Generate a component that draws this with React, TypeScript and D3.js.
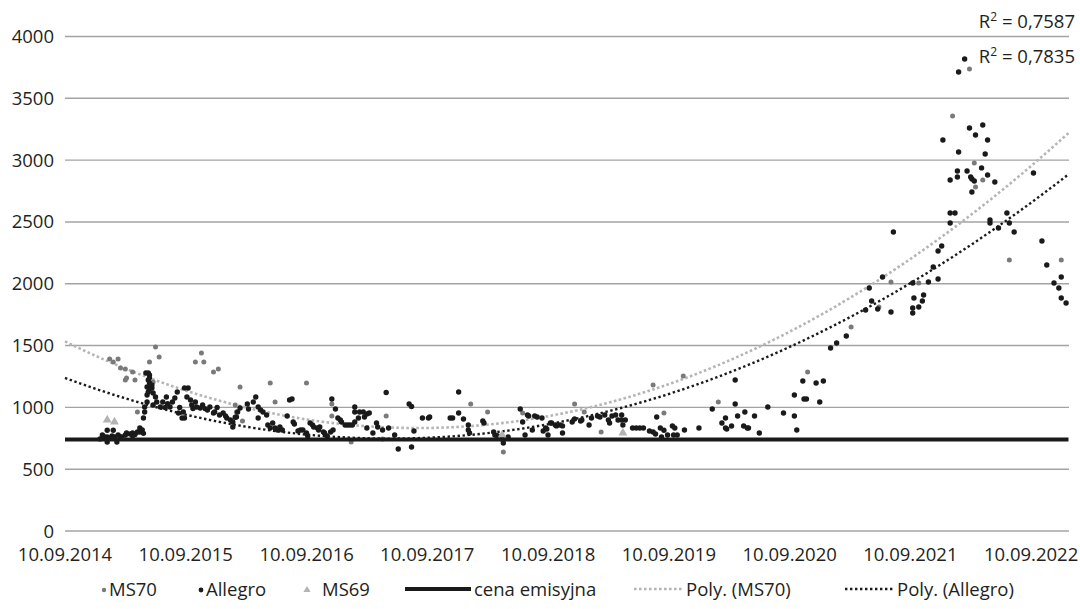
import React from "react";
import * as d3 from "d3";

// ---------- DATA (x = decimal year, y = price) ----------
const xTickLabels = ["10.09.2014","10.09.2015","10.09.2016","10.09.2017","10.09.2018","10.09.2019","10.09.2020","10.09.2021","10.09.2022"];
const yTicks = [0, 500, 1000, 1500, 2000, 2500, 3000, 3500, 4000];
const xDomainEnd = 2023.0;
const cenaEmisyjna = 740;
const r2MS70 = "0,7587";
const r2Allegro = "0,7835";

const ms70: [number, number][] = [
  [2015.06,1391],[2015.09,1367],[2015.13,1391],[2015.15,1318],[2015.19,1310],[2015.25,1286],[2015.19,1221],[2015.20,1237],
  [2015.27,1221],[2015.44,1488],[2015.47,1407],[2015.39,1367],[2015.77,1367],[2015.82,1440],[2015.84,1367],[2015.92,1286],
  [2015.96,1310],[2015.29,963],[2015.42,1205],[2016.14,1165],[2016.39,1197],[2016.69,1197],[2016.43,1043],[2016.90,1027],
  [2016.90,930],[2017.06,720],[2016.10,1019],[2016.11,963],[2016.16,890],[2017.35,930],[2017.32,744],[2018.05,1027],
  [2018.19,963],[2018.32,639],[2018.48,954],[2018.91,1027],[2018.99,963],[2019.13,801],[2019.56,1181],[2019.65,954],
  [2019.81,1254],[2020.10,1043],[2020.84,1286],[2021.20,1650],[2021.43,1812],[2021.53,2014],[2021.76,2006],[2022.04,3357],
  [2022.18,3737],[2022.22,2977],[2022.23,2783],[2022.29,2839],[2022.51,2192],[2022.94,2192]
];

const allegro: [number, number][] = [
  [2014.98,745],[2015.00,776],[2015.02,760],[2015.04,760],[2015.04,720],[2015.04,815],[2015.06,752],[2015.08,768],
  [2015.09,815],[2015.10,760],[2015.12,720],[2015.13,776],[2015.15,760],[2015.16,760],[2015.19,776],[2015.20,793],
  [2015.23,785],[2015.25,770],[2015.25,793],[2015.27,780],[2015.29,801],[2015.31,801],[2015.33,817],[2015.34,790],
  [2015.31,833],[2015.34,914],[2015.35,963],[2015.35,1003],[2015.37,1043],[2015.37,1100],[2015.38,1124],[2015.37,1165],
  [2015.36,1278],[2015.38,1278],[2015.39,1262],[2015.38,1221],[2015.39,1197],[2015.41,1157],[2015.42,1116],[2015.44,1084],
  [2015.45,1043],[2015.42,1019],[2015.39,1240],[2015.41,1180],[2015.39,1150],
  [2015.48,1003],[2015.50,1043],[2015.53,1084],[2015.56,1003],[2015.58,1043],[2015.60,1076],[2015.62,1124],[2015.63,954],
  [2015.66,914],[2015.67,963],[2015.68,1157],[2015.68,914],[2015.70,1084],[2015.71,1157],[2015.73,1060],[2015.74,1019],
  [2015.77,1043],[2015.78,1003],[2015.81,995],[2015.83,1019],[2015.87,979],[2015.89,1003],[2015.92,954],[2015.93,963],
  [2015.97,938],[2016.00,954],[2016.03,914],[2016.06,898],[2016.08,882],[2016.11,922],[2016.08,841],[2015.52,1000],
  [2015.54,1030],[2015.64,1000],[2015.75,990],[2015.85,990],[2015.95,1000],[2016.02,930],
  [2016.10,920],[2016.12,963],[2016.14,995],[2016.20,1027],[2016.21,987],[2016.25,1043],[2016.27,1084],[2016.29,1003],
  [2016.29,914],[2016.31,979],[2016.33,963],[2016.36,938],[2016.37,857],[2016.39,833],[2016.41,874],[2016.43,833],
  [2016.45,817],[2016.47,841],[2016.49,817],[2016.53,930],[2016.55,1060],[2016.57,1068],[2016.58,882],[2016.59,866],
  [2016.62,809],[2016.64,817],[2016.66,817],[2016.69,793],[2016.70,768],[2016.72,874],[2016.74,857],[2016.75,841],
  [2016.78,833],[2016.79,817],[2016.80,841],[2016.83,801],[2016.84,793],[2016.86,768],[2016.89,801],[2016.90,1068],
  [2016.91,817],[2016.93,987],[2016.95,914],[2016.97,898],[2016.98,882],[2017.01,857],[2017.03,857],[2017.05,857],
  [2017.07,857],[2017.09,1003],[2017.09,963],[2017.09,882],[2017.12,914],[2017.13,963],[2017.16,963],[2017.17,922],
  [2017.19,946],[2017.21,954],[2017.19,833],[2017.24,793],[2017.27,874],[2017.28,841],[2017.32,817],[2017.35,1120],
  [2017.37,833],[2017.42,776],[2017.45,663],[2017.54,1027],[2017.56,1007],[2017.56,679],[2017.58,809],[2017.65,914],
  [2017.70,914],[2017.71,922],
  [2017.88,914],[2017.90,914],[2017.95,1124],[2017.95,954],[2017.99,906],[2018.03,857],[2018.03,817],[2018.04,793],
  [2018.15,890],[2018.16,874],[2018.24,801],[2018.25,776],[2018.27,770],[2018.31,745],[2018.32,712],[2018.36,760],
  [2018.46,987],[2018.48,882],[2018.50,776],[2018.52,938],[2018.53,930],[2018.56,817],[2018.58,930],[2018.60,922],
  [2018.64,914],[2018.65,809],[2018.67,833],[2018.68,825],[2018.69,776],[2018.71,874],[2018.72,874],[2018.75,857],
  [2018.76,850],[2018.79,857],[2018.81,850],[2018.81,793],[2018.89,882],[2018.91,906],[2018.96,890],[2018.97,898],
  [2019.03,857],[2019.05,914],[2019.10,930],[2019.12,922],[2019.16,938],[2019.19,898],[2019.20,874],[2019.22,930],
  [2019.25,938],[2019.27,898],[2019.30,938],[2019.30,898],[2019.31,857],[2019.33,898],[2019.39,833],[2019.42,833],
  [2019.45,833],[2019.48,833],[2019.53,809],[2019.56,801],[2019.58,785],[2019.59,922],[2019.62,833],[2019.63,760],
  [2019.65,815],[2019.68,776],[2019.72,849],[2019.73,776],[2019.74,833],[2019.76,776],[2019.82,817],[2019.94,833],
  [2020.05,987],[2020.13,874],[2020.16,914],[2020.16,833],[2020.17,825],[2020.21,849],[2020.24,1221],[2020.24,1027],
  [2020.26,930],[2020.31,849],[2020.32,963],[2020.34,833],[2020.35,833],[2020.40,930],[2020.44,793],[2020.51,1003],
  [2020.64,954],[2020.73,1100],[2020.73,930],[2020.75,817],
  [2020.80,1213],[2020.81,1068],[2020.83,1068],[2020.91,1197],[2020.94,1043],[2020.97,1213],[2021.03,1480],[2021.08,1521],
  [2021.16,1577],[2021.32,1788],[2021.35,1966],[2021.37,1861],[2021.42,1796],[2021.46,2055],[2021.53,1772],[2021.55,2419],
  [2021.71,1804],[2021.71,1764],[2021.72,1885],[2021.71,2006],[2021.76,1812],[2021.79,1861],[2021.80,1909],[2021.84,2014],
  [2021.88,2136],[2021.92,2038],[2021.92,2265],[2021.95,2305],[2021.96,3163],[2022.02,2839],[2022.02,2491],[2022.02,2572],
  [2022.06,2572],[2022.08,2864],[2022.08,2912],[2022.09,3066],[2022.09,3713],[2022.14,3818],[2022.16,2912],[2022.18,3260],
  [2022.19,2864],[2022.20,2847],[2022.22,2831],[2022.23,3203],[2022.28,2937],[2022.29,3284],[2022.31,3050],[2022.33,3163],
  [2022.33,2880],[2022.39,2823],[2022.20,2742],[2022.35,2516],[2022.35,2491],[2022.42,2451],[2022.49,2572],[2022.51,2491],
  [2022.55,2419],[2022.71,2896],[2022.78,2346],[2022.82,2152],[2022.88,2006],[2022.92,1966],[2022.94,2055],[2022.94,1885],
  [2022.98,1844]
];

const ms69: [number, number][] = [[2015.04,898],[2015.10,882],[2018.31,776],[2019.31,793]];

// Trendline readings (Excel "Poly." order 2)
const trendMS70Readings: [number, number][] = [
  [2014.69,1520],[2015.48,1197],[2016.14,1043],[2016.89,882],[2017.63,833],[2017.96,833],[2018.79,954],
  [2019.62,1157],[2020.26,1383],[2021.27,1949],[2022.10,2491],[2022.99,3211]
];
const trendAllegroReadings: [number, number][] = [
  [2014.69,1221],[2014.92,1140],[2015.20,1084],[2015.48,1019],[2015.75,954],[2016.03,857],[2016.47,801],[2016.89,760],
  [2017.30,744],[2017.96,760],[2018.38,801],[2018.79,898],[2019.20,979],[2019.62,1084],[2020.26,1302],[2020.94,1602],
  [2021.77,2046],[2022.10,2273],[2022.99,2871]
];

const legendItems = ["MS70", "Allegro", "MS69", "cena emisyjna", "Poly. (MS70)", "Poly. (Allegro)"];

// ---------- helpers ----------
function labelToYear(s: string): number {
  const [d, m, y] = s.split(".").map(Number);
  const start = Date.UTC(y, 0, 1);
  const len = Date.UTC(y + 1, 0, 1) - start;
  return y + (Date.UTC(y, m - 1, d) - start) / len;
}

function fitQuadratic(pts: [number, number][], t0: number) {
  let s0 = 0, s1 = 0, s2 = 0, s3 = 0, s4 = 0, b0 = 0, b1 = 0, b2 = 0;
  for (const [xr, y] of pts) {
    const x = xr - t0;
    s0 += 1; s1 += x; s2 += x * x; s3 += x * x * x; s4 += x * x * x * x;
    b0 += y; b1 += x * y; b2 += x * x * y;
  }
  const M = [[s0, s1, s2, b0], [s1, s2, s3, b1], [s2, s3, s4, b2]];
  for (let i = 0; i < 3; i++) {
    let p = i;
    for (let r = i + 1; r < 3; r++) if (Math.abs(M[r][i]) > Math.abs(M[p][i])) p = r;
    [M[i], M[p]] = [M[p], M[i]];
    for (let r = 0; r < 3; r++) {
      if (r === i) continue;
      const f = M[r][i] / M[i][i];
      for (let c = i; c < 4; c++) M[r][c] -= f * M[i][c];
    }
  }
  const c = [M[0][3] / M[0][0], M[1][3] / M[1][1], M[2][3] / M[2][2]];
  return (xr: number) => { const x = xr - t0; return c[0] + c[1] * x + c[2] * x * x; };
}

const W = 1080, H = 609;
const FONT = "'Open Sans', 'Noto Sans', sans-serif";
const TXT = "#231f20";
const FS = 18.5;

export default function App() {
  const xStart = labelToYear(xTickLabels[0]);
  const x = d3.scaleLinear().domain([xStart, xDomainEnd]).range([65, 1068.5]);
  const y = d3.scaleLinear().domain([0, 4000]).range([531, 36.5]);

  const fM = fitQuadratic(trendMS70Readings, 2018.5);
  const fA = fitQuadratic(trendAllegroReadings, 2018.5);
  const samples = d3.range(0, 201).map(i => xStart + (xDomainEnd - xStart) * i / 200);
  const pathM = d3.line<number>().x(d => x(d)).y(d => y(fM(d)))(samples) || "";
  const pathA = d3.line<number>().x(d => x(d)).y(d => y(fA(d)))(samples) || "";
  const tri = d3.symbol().type(d3.symbolTriangle).size(34)() || "";
  const triLeg = d3.symbol().type(d3.symbolTriangle).size(22)() || "";

  const legY = 589;
  const legendLayout = [
    { marker: "dotGray", mx: 104, tx: 109 },
    { marker: "dotBlack", mx: 201, tx: 206 },
    { marker: "tri", mx: 307, tx: 322 },
    { marker: "thick", mx: 405, mx2: 471, tx: 474 },
    { marker: "dotLineGray", mx: 634, mx2: 682, tx: 686 },
    { marker: "dotLineBlack", mx: 845, mx2: 893, tx: 897 },
  ];

  return (
    <svg width={W} height={H} style={{ position: "absolute", left: 0, top: 0, background: "#fff" }}
      fontFamily={FONT}>
      {/* grid */}
      {yTicks.map(t => (
        <line key={t} x1={65} x2={1069} y1={y(t)} y2={y(t)} stroke="#a3a3a3" strokeWidth={1.4} />
      ))}
      {yTicks.map(t => (
        <text key={"l" + t} x={54} y={y(t) + 6.5} textAnchor="end" fontSize={FS} fill={TXT}>{t}</text>
      ))}
      {xTickLabels.map(l => (
        <text key={l} x={x(labelToYear(l))} y={561} textAnchor="middle" fontSize={FS} fill={TXT}>{l}</text>
      ))}

      {/* trendlines */}
      <path d={pathM} fill="none" stroke="#b5b5b5" strokeWidth={2.6} strokeDasharray="2.6 2.4" />
      <path d={pathA} fill="none" stroke="#1a1a1a" strokeWidth={2.4} strokeDasharray="2.4 2.6" />

      {/* series */}
      {ms70.map((d, i) => (
        <circle key={"m" + i} cx={x(d[0])} cy={y(d[1])} r={2.5} fill="#7a7a7a" />
      ))}
      {allegro.map((d, i) => (
        <circle key={"a" + i} cx={x(d[0])} cy={y(d[1])} r={2.7} fill="#1a1a1a" />
      ))}
      {ms69.map((d, i) => (
        <path key={"t" + i} d={tri} transform={`translate(${x(d[0])},${y(d[1])})`} fill="#b3b3b3" />
      ))}
      <line x1={x(xStart)} x2={x(xDomainEnd)} y1={y(cenaEmisyjna)} y2={y(cenaEmisyjna)} stroke="#1a1a1a" strokeWidth={4} />

      {/* R² labels */}
      <text x={1075} y={28} textAnchor="end" fontSize={FS} fill={TXT}>
        R<tspan dy={-7} fontSize={12}>2</tspan><tspan dy={7}> = {r2MS70}</tspan>
      </text>
      <text x={1075} y={63} textAnchor="end" fontSize={FS} fill={TXT}>
        R<tspan dy={-7} fontSize={12}>2</tspan><tspan dy={7}> = {r2Allegro}</tspan>
      </text>

      {/* legend */}
      {legendLayout.map((l, i) => (
        <g key={"lg" + i}>
          {l.marker === "dotGray" && <circle cx={l.mx} cy={legY + 1} r={2.2} fill="#7a7a7a" />}
          {l.marker === "dotBlack" && <circle cx={l.mx} cy={legY + 1} r={2.4} fill="#1a1a1a" />}
          {l.marker === "tri" && <path d={triLeg} transform={`translate(${l.mx},${legY + 1})`} fill="#b3b3b3" />}
          {l.marker === "thick" && <line x1={l.mx} x2={l.mx2} y1={legY} y2={legY} stroke="#1a1a1a" strokeWidth={4} />}
          {l.marker === "dotLineGray" && <line x1={l.mx} x2={l.mx2} y1={legY} y2={legY} stroke="#b5b5b5" strokeWidth={2.6} strokeDasharray="2.6 2.4" />}
          {l.marker === "dotLineBlack" && <line x1={l.mx} x2={l.mx2} y1={legY} y2={legY} stroke="#1a1a1a" strokeWidth={2.4} strokeDasharray="2.4 2.6" />}
          <text x={l.tx} y={legY + 6.5} fontSize={FS} fill={TXT}>{legendItems[i]}</text>
        </g>
      ))}
    </svg>
  );
}
